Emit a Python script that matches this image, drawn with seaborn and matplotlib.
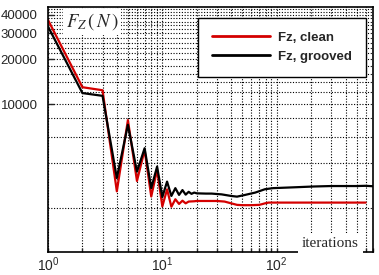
import numpy as np
import pandas as pd
import matplotlib
matplotlib.use("Agg")
import matplotlib.pyplot as plt
import seaborn as sns
from matplotlib.ticker import FixedLocator, FuncFormatter, LogLocator, NullFormatter

# --- Data ---
iter_clean = [1, 2, 3, 4, 5, 6, 7, 8, 9, 10, 11, 12, 13, 14, 15, 16, 17, 19, 20,
              25, 30, 35, 40, 45, 50, 60, 70, 74, 79, 85, 100, 200, 300, 400, 500, 600]
fz_clean = [37000, 13000, 12400, 2580, 7800, 3030, 4900, 2380, 3600, 2040, 2660, 2030,
            2280, 2120, 2230, 2140, 2200, 2210, 2220,
            2220, 2220, 2200, 2140, 2090, 2080, 2080, 2090, 2110, 2140, 2165, 2165,
            2165, 2165, 2165, 2165, 2165]

iter_grooved = [1, 2, 3, 4, 5, 6, 7, 8, 9, 10, 11, 12, 13, 14, 15, 16, 17, 18, 19, 20,
                24, 27, 33, 40, 45, 53, 65, 79, 93, 150, 210, 300, 400, 500, 600, 700]
fz_grooved = [33400, 11870, 11370, 3170, 7250, 3500, 5040, 2710, 3790, 2360, 3000, 2400,
              2710, 2440, 2630, 2450, 2560, 2480, 2530, 2500,
              2490, 2490, 2460, 2400, 2375, 2440, 2530, 2665, 2710, 2750, 2780, 2800,
              2800, 2800, 2810, 2790]

y_major = [10000, 20000, 30000, 40000]
y_grid = list(range(2000, 46000, 2000))

df_clean = pd.DataFrame({"iteration": iter_clean, "Fz": fz_clean})
df_grooved = pd.DataFrame({"iteration": iter_grooved, "Fz": fz_grooved})

# --- Style ---
sns.set_style("ticks")
plt.rcParams["font.family"] = ["Liberation Sans", "DejaVu Sans"]

fig = plt.figure(figsize=(3.79, 2.75), dpi=100)
ax = fig.add_axes([0.1266, 0.0825, 0.8584, 0.891])

sns.lineplot(data=df_clean, x="iteration", y="Fz", color="#d40000", lw=1.6,
             estimator=None, sort=False, ax=ax, label="Fz, clean")
sns.lineplot(data=df_grooved, x="iteration", y="Fz", color="black", lw=1.6,
             estimator=None, sort=False, ax=ax, label="Fz, grooved")

ax.set_xscale("log")
ax.set_yscale("log")
ax.set_xlim(1, 700)
ax.set_ylim(1000, 45000)

ax.yaxis.set_major_locator(FixedLocator(y_major))
ax.yaxis.set_major_formatter(FuncFormatter(lambda v, p: f"{int(v)}"))
ax.yaxis.set_minor_locator(FixedLocator(y_grid))
ax.yaxis.set_minor_formatter(NullFormatter())
ax.xaxis.set_minor_locator(LogLocator(base=10, subs=np.arange(2, 10)))
ax.xaxis.set_minor_formatter(NullFormatter())

dots = (0, (1, 1.5))
ax.grid(which="both", axis="x", color="black", ls=dots, lw=0.8)
ax.grid(which="both", axis="y", color="black", ls=dots, lw=0.8)

ax.tick_params(axis="y", which="major", direction="in", length=4, width=1, pad=7.5, labelsize=9.5)
ax.tick_params(axis="y", which="minor", length=0)
ax.tick_params(axis="x", which="both", direction="in", length=3, width=1, pad=2.5, labelsize=10)
for s in ax.spines.values():
    s.set_linewidth(1.2)
    s.set_color("black")

ax.set_xlabel("")
ax.set_ylabel("")

ax.text(0.055, 0.94, r"$F_{Z}\,(\,N\,)$", transform=ax.transAxes, math_fontfamily="stix",
        fontsize=13.5, va="center", ha="left",
        bbox=dict(facecolor="white", edgecolor="none", pad=2))
ax.text(0.78, 0.023, "iterations", transform=ax.transAxes, family="Liberation Serif",
        fontsize=11, va="baseline", ha="left",
        bbox=dict(facecolor="white", edgecolor="none", pad=3))

leg = ax.legend(loc="upper right", bbox_to_anchor=(0.9766, 0.9563), borderaxespad=0,
                fancybox=False, frameon=True, framealpha=1, edgecolor="black",
                prop={"weight": "bold", "size": 9.5}, handlelength=4.4,
                handletextpad=0.6, borderpad=1.05, labelspacing=0.5)
leg.get_frame().set_linewidth(1.0)
for h in leg.get_lines():
    h.set_linewidth(2)

plt.savefig("out.png", dpi=100)
